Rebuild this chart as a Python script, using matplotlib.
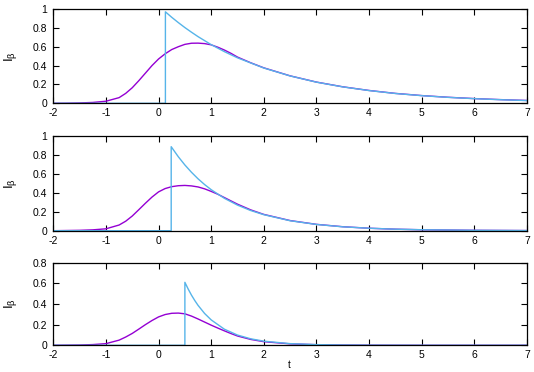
import matplotlib
matplotlib.use("Agg")
import matplotlib.pyplot as plt

plt.rcParams['font.family'] = ['Liberation Sans', 'DejaVu Sans']

# ---- Panel 1 ----
p1_blue_t = [-2.0, 0.13, 0.13, 0.25, 0.375, 0.5, 0.625, 0.75, 1.0, 1.25, 1.5, 2.0, 2.5, 3.0, 3.5, 4.0, 4.5, 5.0, 5.5, 6.0, 6.5, 7.0]
p1_blue_v = [0.0, 0.0, 0.97, 0.912, 0.856, 0.803, 0.754, 0.707, 0.622, 0.548, 0.482, 0.374, 0.290, 0.224, 0.174, 0.135, 0.104, 0.081, 0.063, 0.049, 0.038, 0.029]
p1_purp_t = [-2.0, -1.75, -1.5, -1.25, -1.0, -0.75, -0.625, -0.5, -0.375, -0.25, -0.125, 0.0, 0.125, 0.25, 0.375, 0.5, 0.625, 0.75, 0.875, 1.0, 1.125, 1.25, 1.375, 1.5, 1.75, 2.0, 2.5, 3.0, 3.5, 4.0, 4.5, 5.0, 5.5, 6.0, 6.5, 7.0]
p1_purp_v = [0.0, 0.001, 0.004, 0.009, 0.022, 0.06, 0.105, 0.165, 0.24, 0.32, 0.40, 0.47, 0.525, 0.57, 0.60, 0.625, 0.637, 0.638, 0.633, 0.62, 0.595, 0.565, 0.53, 0.49, 0.43, 0.376, 0.291, 0.225, 0.175, 0.136, 0.105, 0.082, 0.064, 0.050, 0.039, 0.030]

# ---- Panel 2 ----
p2_blue_t = [-2.0, 0.24, 0.24, 0.375, 0.5, 0.625, 0.75, 0.875, 1.0, 1.25, 1.5, 1.75, 2.0, 2.5, 3.0, 3.5, 4.0, 4.5, 5.0, 6.0, 7.0]
p2_blue_v = [0.0, 0.0, 0.887, 0.781, 0.694, 0.617, 0.548, 0.487, 0.433, 0.342, 0.270, 0.213, 0.169, 0.105, 0.066, 0.041, 0.026, 0.016, 0.010, 0.004, 0.0015]
p2_purp_t = [-2.0, -1.5, -1.25, -1.0, -0.75, -0.625, -0.5, -0.375, -0.25, -0.125, 0.0, 0.125, 0.25, 0.375, 0.5, 0.625, 0.75, 0.875, 1.0, 1.125, 1.25, 1.375, 1.5, 1.75, 2.0, 2.5, 3.0, 3.5, 4.0, 4.5, 5.0, 6.0, 7.0]
p2_purp_v = [0.0, 0.004, 0.009, 0.02, 0.06, 0.1, 0.155, 0.222, 0.29, 0.355, 0.41, 0.445, 0.465, 0.475, 0.478, 0.473, 0.462, 0.442, 0.415, 0.385, 0.35, 0.315, 0.28, 0.22, 0.172, 0.107, 0.067, 0.042, 0.026, 0.016, 0.010, 0.004, 0.0015]

# ---- Panel 3 ----
p3_blue_t = [-2.0, 0.5, 0.5, 0.5625, 0.625, 0.6875, 0.75, 0.875, 1.0, 1.25, 1.5, 1.75, 2.0, 2.5, 3.0, 3.5, 4.0, 5.0, 7.0]
p3_blue_v = [0.0, 0.0, 0.61, 0.545, 0.486, 0.434, 0.387, 0.308, 0.246, 0.156, 0.099, 0.063, 0.040, 0.016, 0.0065, 0.0026, 0.001, 0.0, 0.0]
p3_purp_t = [-2.0, -1.5, -1.25, -1.0, -0.75, -0.625, -0.5, -0.375, -0.25, -0.125, 0.0, 0.125, 0.25, 0.375, 0.5, 0.625, 0.75, 0.875, 1.0, 1.125, 1.25, 1.375, 1.5, 1.75, 2.0, 2.5, 3.0, 3.5, 4.0, 5.0, 7.0]
p3_purp_v = [0.0, 0.003, 0.007, 0.016, 0.05, 0.08, 0.115, 0.157, 0.2, 0.24, 0.275, 0.298, 0.31, 0.312, 0.305, 0.283, 0.255, 0.225, 0.195, 0.167, 0.14, 0.114, 0.09, 0.057, 0.035, 0.014, 0.006, 0.0025, 0.001, 0.0, 0.0]

x_ticks = [-2, -1, 0, 1, 2, 3, 4, 5, 6, 7]
y_ticks_12 = [0, 0.2, 0.4, 0.6, 0.8, 1]
y_ticks_3 = [0, 0.2, 0.4, 0.6, 0.8]
y_label = r'$\mathregular{I_\beta}$'
x_label = 't'

PURPLE = '#9400D3'
BLUE = '#56B4E9'

W, H = 534, 372
fig = plt.figure(figsize=(W / 100, H / 100), dpi=100)

def px_axes(left, right, top, bottom):
    return fig.add_axes([left / W, 1 - bottom / H, (right - left) / W, (bottom - top) / H])

panels = [
    (9.0, 103.3, p1_purp_t, p1_purp_v, p1_blue_t, p1_blue_v, (0, 1), y_ticks_12),
    (136.0, 230.7, p2_purp_t, p2_purp_v, p2_blue_t, p2_blue_v, (0, 1), y_ticks_12),
    (262.7, 345.3, p3_purp_t, p3_purp_v, p3_blue_t, p3_blue_v, (0, 0.8), y_ticks_3),
]

for top, bottom, pt, pv, bt, bv, ylim, yt in panels:
    ax = px_axes(53.3, 527.0, top, bottom)
    ax.plot(pt, pv, color=PURPLE, lw=1.0)
    ax.plot(bt, bv, color=BLUE, lw=1.0)
    ax.set_xlim(-2, 7)
    ax.set_ylim(*ylim)
    ax.set_xticks(x_ticks)
    ax.set_xticklabels([str(v) for v in x_ticks])
    ax.set_yticks(yt)
    ax.set_yticklabels(['0' if v == 0 else ('1' if v == 1 else f'{v:g}') for v in yt])
    ax.tick_params(direction='in', length=4, width=0.8, top=True, right=True,
                   labelsize=7.5, pad=4.5, colors='black')
    ax.tick_params(axis='x', pad=3.5)
    for s in ax.spines.values():
        s.set_linewidth(0.9)
        s.set_color('black')
    ax.set_ylabel(y_label, fontsize=9.5)
    ax.yaxis.set_label_coords(-0.072, 0.5)

fig.text(289 / W, 1.5 / H, x_label, ha='center', va='bottom', fontsize=7)

fig.savefig('out.png', dpi=100)
